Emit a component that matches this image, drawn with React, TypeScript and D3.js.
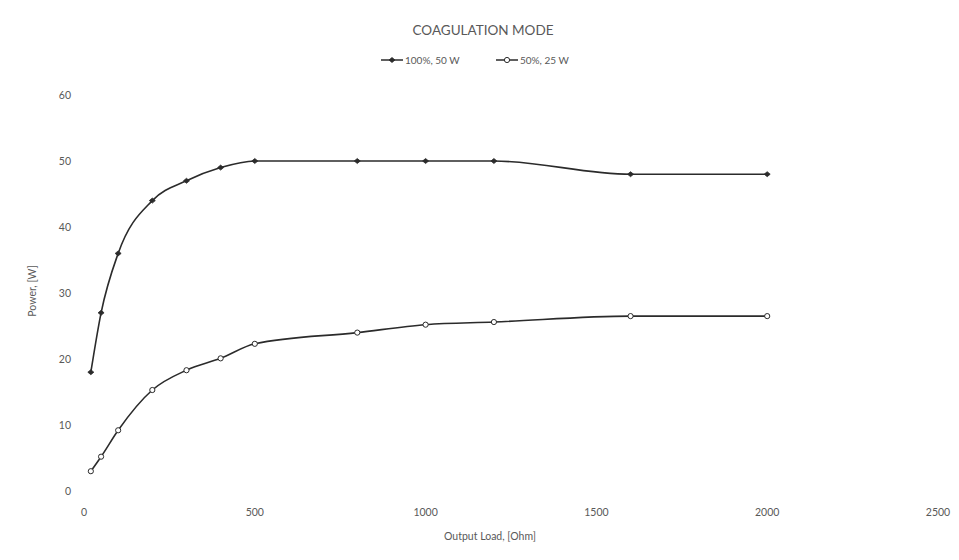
import React from "react";
import * as d3 from "d3";

const loads100 = [20, 50, 100, 200, 300, 400, 500, 800, 1000, 1200, 1600, 2000];
const power100 = [18, 27, 36, 44, 47, 49, 50, 50, 50, 50, 48, 48];
const loads50 = [20, 50, 100, 200, 300, 400, 500, 800, 1000, 1200, 1600, 2000];
const power50 = [3, 5.2, 9.2, 15.3, 18.3, 20.1, 22.3, 24, 25.2, 25.6, 26.5, 26.5];
const xTicks = [0, 500, 1000, 1500, 2000, 2500];
const yTicks = [0, 10, 20, 30, 40, 50, 60];
const seriesNames = ["100%, 50 W", "50%, 25 W"];
const title = "COAGULATION MODE";
const xTitle = "Output Load, [Ohm]";
const yTitle = "Power, [W]";

const W = 959;
const H = 560;
const FONT = "Lato, 'Open Sans', sans-serif";
const TXT = "#595959";
const LINE = "#2b2b2b";

export default function App() {
  const x = d3.scaleLinear().domain([0, 2500]).range([84, 938]);
  const y = d3.scaleLinear().domain([0, 60]).range([491, 95]);
  const line = d3
    .line<[number, number]>()
    .x((d) => x(d[0]))
    .y((d) => y(d[1]))
    .curve(d3.curveMonotoneX);

  const s1: [number, number][] = loads100.map((l, i) => [l, power100[i]]);
  const s2: [number, number][] = loads50.map((l, i) => [l, power50[i]]);

  const filledMarker = (cx: number, cy: number, k: string | number) => (
    <path key={k} d={`M${cx - 3},${cy} L${cx},${cy - 2.5} L${cx + 3},${cy} L${cx},${cy + 2.5} Z`} fill={LINE} stroke={LINE} strokeWidth={0.8} />
  );
  const openMarker = (cx: number, cy: number, k: string | number) => (
    <circle key={k} cx={cx} cy={cy} r={2.6} fill="#ffffff" stroke={LINE} strokeWidth={1} />
  );

  const legendY = 60;
  return (
    <div style={{ margin: -8 }}>
      <svg width={W} height={H} style={{ display: "block", background: "#ffffff" }} fontFamily={FONT}>
        <rect x={0} y={0} width={W} height={H} fill="#ffffff" />
        <text x={483} y={35} textAnchor="middle" fontSize={13.5} fill={TXT}>
          {title}
        </text>
        {/* legend */}
        <g>
          <line x1={381} x2={403} y1={legendY} y2={legendY} stroke={LINE} strokeWidth={1.5} />
          {filledMarker(392, legendY, "l1")}
          <text x={405} y={legendY + 3.5} fontSize={10} fill={TXT}>
            {seriesNames[0]}
          </text>
          <line x1={496} x2={518} y1={legendY} y2={legendY} stroke={LINE} strokeWidth={1.5} />
          {openMarker(507, legendY, "l2")}
          <text x={520} y={legendY + 3.5} fontSize={10} fill={TXT}>
            {seriesNames[1]}
          </text>
        </g>
        {/* y ticks */}
        {yTicks.map((t) => (
          <text key={"y" + t} x={71} y={y(t) + 4} textAnchor="end" fontSize={10.5} fill={TXT}>
            {t}
          </text>
        ))}
        {/* x ticks */}
        {xTicks.map((t) => (
          <text key={"x" + t} x={x(t)} y={516} textAnchor="middle" fontSize={10.5} fill={TXT}>
            {t}
          </text>
        ))}
        <text x={490} y={540} textAnchor="middle" fontSize={10.5} fill={TXT}>
          {xTitle}
        </text>
        <text transform={`translate(36,${y(30) - 2}) rotate(-90)`} textAnchor="middle" fontSize={10.5} fill={TXT}>
          {yTitle}
        </text>
        {/* series */}
        <path d={line(s1) || ""} fill="none" stroke={LINE} strokeWidth={1.6} />
        <path d={line(s2) || ""} fill="none" stroke={LINE} strokeWidth={1.6} />
        {s1.map((d, i) => filledMarker(x(d[0]), y(d[1]), "a" + i))}
        {s2.map((d, i) => openMarker(x(d[0]), y(d[1]), "b" + i))}
      </svg>
    </div>
  );
}
